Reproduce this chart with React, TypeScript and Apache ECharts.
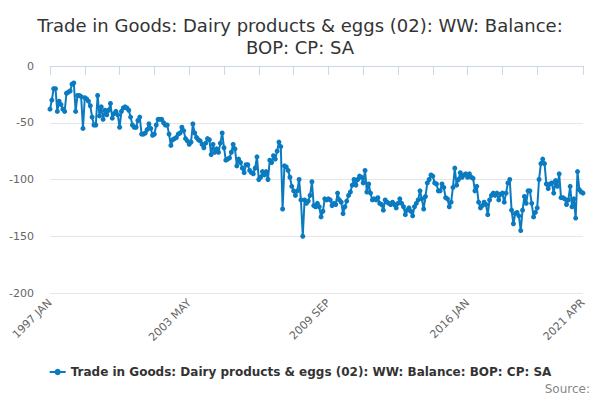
import React, { useEffect, useRef } from "react";
import * as echarts from "echarts";

const MONTHS = ["JAN", "FEB", "MAR", "APR", "MAY", "JUN", "JUL", "AUG", "SEP", "OCT", "NOV", "DEC"];
const START_YEAR = 1997;

const v1997 = [-38, -30, -20, -20, -40, -31, -34, -38, -40, -24, -23, -22];
const v1998 = [-16, -15, -40, -26, -26, -27, -55, -28, -29, -31, -35, -45];
const v1999 = [-52, -52, -26, -44, -36, -47, -39, -43, -39, -33, -46, -42];
const v2000 = [-40, -43, -54, -40, -37, -36, -37, -39, -45, -52, -54, -54];
const v2001 = [-48, -45, -60, -60, -59, -56, -51, -55, -61, -60, -52, -47];
const v2002 = [-47, -47, -50, -52, -52, -60, -70, -65, -64, -63, -60, -59];
const v2003 = [-54, -57, -64, -66, -69, -67, -51, -59, -63, -65, -66, -69];
const v2004 = [-72, -68, -64, -65, -78, -69, -76, -73, -76, -68, -59, -72];
const v2005 = [-83, -82, -81, -76, -69, -73, -88, -82, -85, -90, -94, -87];
const v2006 = [-87, -92, -94, -95, -90, -80, -100, -98, -93, -96, -93, -100];
const v2007 = [-83, -85, -79, -82, -75, -67, -71, -126, -88, -89, -92, -98];
const v2008 = [-106, -110, -114, -110, -100, -118, -150, -118, -121, -119, -114, -102];
const v2009 = [-123, -124, -121, -124, -133, -128, -117, -118, -117, -118, -123, -121];
const v2010 = [-122, -112, -118, -120, -130, -124, -119, -114, -111, -105, -100, -105];
const v2011 = [-100, -97, -98, -103, -92, -111, -104, -112, -118, -117, -118, -116];
const v2012 = [-121, -122, -127, -118, -120, -121, -122, -120, -122, -125, -121, -117];
const v2013 = [-121, -124, -131, -127, -125, -128, -132, -124, -121, -118, -110, -117];
const v2014 = [-126, -115, -103, -100, -96, -97, -103, -104, -110, -110, -104, -107];
const v2015 = [-116, -117, -124, -120, -107, -90, -105, -100, -94, -98, -96, -95];
const v2016 = [-98, -95, -98, -99, -110, -106, -120, -125, -123, -120, -122, -131];
const v2017 = [-118, -114, -112, -114, -112, -118, -113, -112, -120, -112, -103, -100];
const v2018 = [-127, -139, -130, -129, -132, -145, -127, -115, -121, -110, -110, -121];
const v2019 = [-133, -129, -125, -100, -86, -82, -86, -104, -108, -104, -103, -112];
const v2020 = [-101, -106, -95, -116, -116, -117, -122, -118, -106, -124, -117, -134];
const v2021 = [-93, -109, -111, -112];

const yearly = [
  v1997, v1998, v1999, v2000, v2001, v2002, v2003, v2004, v2005, v2006, v2007, v2008,
  v2009, v2010, v2011, v2012, v2013, v2014, v2015, v2016, v2017, v2018, v2019, v2020, v2021,
];

const categories: string[] = [];
const values: number[] = [];
yearly.forEach((arr, yi) => {
  arr.forEach((v, mi) => {
    categories.push(`${START_YEAR + yi} ${MONTHS[mi]}`);
    values.push(v);
  });
});

const TITLE = "Trade in Goods: Dairy products & eggs (02): WW: Balance:\nBOP: CP: SA";
const SERIES_NAME = "Trade in Goods: Dairy products & eggs (02): WW: Balance: BOP: CP: SA";
const Y_MIN = -200;
const Y_MAX = 0;
const Y_STEP = 50;

const FONT = "DejaVu Sans";
const COLOR = "#0b7bc1";

export default function App() {
  const ref = useRef<HTMLDivElement>(null);
  useEffect(() => {
    document.body.style.margin = "0";
    if (!ref.current) return;
    const chart = echarts.init(ref.current, undefined, { renderer: "svg" });
    const last = categories.length - 1;
    chart.setOption({
      animation: false,
      backgroundColor: "#ffffff",
      textStyle: { fontFamily: FONT },
      title: {
        text: TITLE,
        left: "center",
        top: 9,
        textStyle: {
          fontFamily: FONT,
          fontSize: 18,
          fontWeight: "normal",
          color: "#333333",
          lineHeight: 22,
        },
      },
      grid: { left: 50, right: 17, top: 66, bottom: 107, containLabel: false },
      xAxis: {
        type: "category",
        data: categories,
        boundaryGap: false,
        axisLine: { show: true, lineStyle: { color: "#ccd6eb", width: 1 } },
        axisTick: {
          show: true,
          length: 9,
          lineStyle: { color: "#ccd6eb" },
          interval: (index: number) => (index % 19 === 0 && index < 285) || index === last,
        },
        axisLabel: {
          rotate: 45,
          fontFamily: FONT,
          fontSize: 11,
          color: "#666666",
          margin: 8,
          interval: (index: number) => index % 76 === 0 || index === last,
        },
        splitLine: { show: false },
      },
      yAxis: {
        type: "value",
        min: Y_MIN,
        max: Y_MAX,
        interval: Y_STEP,
        axisLine: { show: false },
        axisTick: { show: false },
        axisLabel: { fontFamily: FONT, fontSize: 11, color: "#666666", margin: 16 },
        splitLine: { lineStyle: { color: "#e6e6e6", width: 1 } },
      },
      legend: {
        bottom: 17,
        left: "center",
        itemWidth: 16,
        itemHeight: 8,
        itemGap: 6,
        textStyle: { fontFamily: FONT, fontSize: 12, fontWeight: "bold", color: "#333333" },
        data: [SERIES_NAME],
      },
      graphic: [
        {
          type: "text",
          right: 10,
          top: 383,
          style: { text: "Source:", fontFamily: FONT, fontSize: 12, fill: "#888888" },
        },
      ],
      series: [
        {
          name: SERIES_NAME,
          type: "line",
          data: values,
          color: COLOR,
          lineStyle: { color: COLOR, width: 2 },
          itemStyle: { color: COLOR },
          symbol: "circle",
          symbolSize: 5,
          showSymbol: true,
          showAllSymbol: true,
        },
      ],
    });
    return () => chart.dispose();
  }, []);
  return <div ref={ref} style={{ width: 600, height: 400 }} />;
}
